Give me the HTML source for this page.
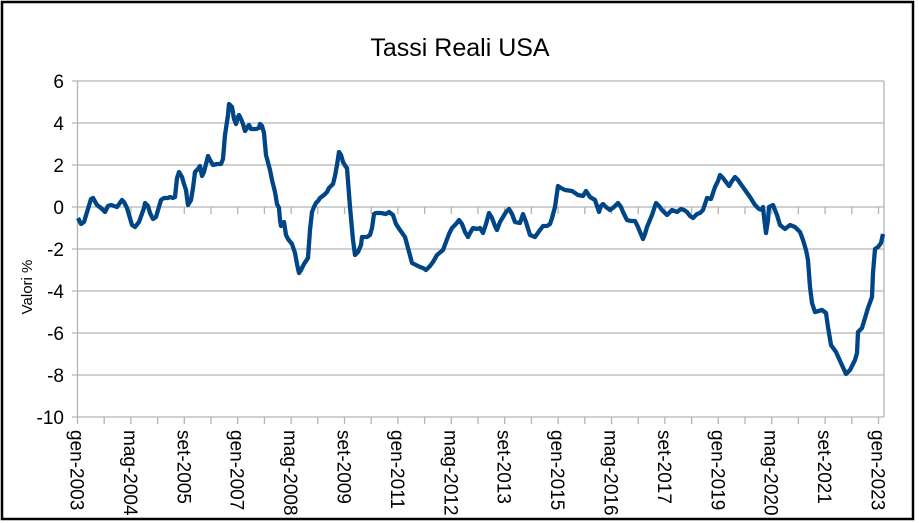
<!DOCTYPE html>
<html><head><meta charset="utf-8"><style>
html,body{margin:0;padding:0;background:#fff;}
svg{display:block;font-family:"Liberation Sans",sans-serif;}
</style></head><body>
<svg width="919" height="523" viewBox="0 0 919 523" xmlns="http://www.w3.org/2000/svg">
<rect x="0" y="0" width="919" height="523" fill="#fff"/>
<rect x="2" y="2" width="911" height="517" fill="none" stroke="#000" stroke-width="2.5"/>
<text x="460" y="56" font-size="25" text-anchor="middle" fill="#000">Tassi Reali USA</text>
<g stroke="#b3b3b3" stroke-width="1.3" fill="none">
<line x1="72" y1="81" x2="884" y2="81"/>
<line x1="72" y1="123" x2="884" y2="123"/>
<line x1="72" y1="165" x2="884" y2="165"/>
<line x1="72" y1="207" x2="884" y2="207"/>
<line x1="72" y1="249" x2="884" y2="249"/>
<line x1="72" y1="291" x2="884" y2="291"/>
<line x1="72" y1="333" x2="884" y2="333"/>
<line x1="72" y1="375" x2="884" y2="375"/>
<line x1="72" y1="417" x2="884" y2="417"/>
<line x1="77.5" y1="81" x2="77.5" y2="417"/>
<line x1="884" y1="81" x2="884" y2="417"/>
</g>
<g stroke="#b3b3b3" stroke-width="1.3">
<line x1="77.5" y1="207" x2="77.5" y2="214"/><line x1="104.2" y1="207" x2="104.2" y2="214"/><line x1="130.9" y1="207" x2="130.9" y2="214"/><line x1="157.6" y1="207" x2="157.6" y2="214"/><line x1="184.3" y1="207" x2="184.3" y2="214"/><line x1="211" y1="207" x2="211" y2="214"/><line x1="237.7" y1="207" x2="237.7" y2="214"/><line x1="264.4" y1="207" x2="264.4" y2="214"/><line x1="291.1" y1="207" x2="291.1" y2="214"/><line x1="317.8" y1="207" x2="317.8" y2="214"/><line x1="344.5" y1="207" x2="344.5" y2="214"/><line x1="371.2" y1="207" x2="371.2" y2="214"/><line x1="397.9" y1="207" x2="397.9" y2="214"/><line x1="424.6" y1="207" x2="424.6" y2="214"/><line x1="451.3" y1="207" x2="451.3" y2="214"/><line x1="478" y1="207" x2="478" y2="214"/><line x1="504.7" y1="207" x2="504.7" y2="214"/><line x1="531.4" y1="207" x2="531.4" y2="214"/><line x1="558.1" y1="207" x2="558.1" y2="214"/><line x1="584.8" y1="207" x2="584.8" y2="214"/><line x1="611.5" y1="207" x2="611.5" y2="214"/><line x1="638.2" y1="207" x2="638.2" y2="214"/><line x1="664.9" y1="207" x2="664.9" y2="214"/><line x1="691.6" y1="207" x2="691.6" y2="214"/><line x1="718.3" y1="207" x2="718.3" y2="214"/><line x1="745" y1="207" x2="745" y2="214"/><line x1="771.7" y1="207" x2="771.7" y2="214"/><line x1="798.4" y1="207" x2="798.4" y2="214"/><line x1="825.1" y1="207" x2="825.1" y2="214"/><line x1="851.8" y1="207" x2="851.8" y2="214"/><line x1="878.5" y1="207" x2="878.5" y2="214"/>
<line x1="77.5" y1="417" x2="77.5" y2="424"/><line x1="104.2" y1="417" x2="104.2" y2="424"/><line x1="130.9" y1="417" x2="130.9" y2="424"/><line x1="157.6" y1="417" x2="157.6" y2="424"/><line x1="184.3" y1="417" x2="184.3" y2="424"/><line x1="211" y1="417" x2="211" y2="424"/><line x1="237.7" y1="417" x2="237.7" y2="424"/><line x1="264.4" y1="417" x2="264.4" y2="424"/><line x1="291.1" y1="417" x2="291.1" y2="424"/><line x1="317.8" y1="417" x2="317.8" y2="424"/><line x1="344.5" y1="417" x2="344.5" y2="424"/><line x1="371.2" y1="417" x2="371.2" y2="424"/><line x1="397.9" y1="417" x2="397.9" y2="424"/><line x1="424.6" y1="417" x2="424.6" y2="424"/><line x1="451.3" y1="417" x2="451.3" y2="424"/><line x1="478" y1="417" x2="478" y2="424"/><line x1="504.7" y1="417" x2="504.7" y2="424"/><line x1="531.4" y1="417" x2="531.4" y2="424"/><line x1="558.1" y1="417" x2="558.1" y2="424"/><line x1="584.8" y1="417" x2="584.8" y2="424"/><line x1="611.5" y1="417" x2="611.5" y2="424"/><line x1="638.2" y1="417" x2="638.2" y2="424"/><line x1="664.9" y1="417" x2="664.9" y2="424"/><line x1="691.6" y1="417" x2="691.6" y2="424"/><line x1="718.3" y1="417" x2="718.3" y2="424"/><line x1="745" y1="417" x2="745" y2="424"/><line x1="771.7" y1="417" x2="771.7" y2="424"/><line x1="798.4" y1="417" x2="798.4" y2="424"/><line x1="825.1" y1="417" x2="825.1" y2="424"/><line x1="851.8" y1="417" x2="851.8" y2="424"/><line x1="878.5" y1="417" x2="878.5" y2="424"/>
</g>
<g font-size="19" fill="#000" text-anchor="end">
<text x="64" y="88">6</text><text x="64" y="130">4</text><text x="64" y="172">2</text>
<text x="64" y="214">0</text><text x="64" y="256">-2</text><text x="64" y="298">-4</text>
<text x="64" y="340">-6</text><text x="64" y="382">-8</text><text x="64" y="424">-10</text>
</g>
<text transform="translate(32,287) rotate(-90)" font-size="15" text-anchor="middle" fill="#000">Valori %</text>
<g font-size="19" fill="#000">
<text transform="translate(70.5,430) rotate(90)">gen-2003</text>
<text transform="translate(123.9,430) rotate(90)">mag-2004</text>
<text transform="translate(177.3,430) rotate(90)">set-2005</text>
<text transform="translate(230.7,430) rotate(90)">gen-2007</text>
<text transform="translate(284.1,430) rotate(90)">mag-2008</text>
<text transform="translate(337.5,430) rotate(90)">set-2009</text>
<text transform="translate(390.9,430) rotate(90)">gen-2011</text>
<text transform="translate(444.3,430) rotate(90)">mag-2012</text>
<text transform="translate(497.7,430) rotate(90)">set-2013</text>
<text transform="translate(551.1,430) rotate(90)">gen-2015</text>
<text transform="translate(604.5,430) rotate(90)">mag-2016</text>
<text transform="translate(657.9,430) rotate(90)">set-2017</text>
<text transform="translate(711.3,430) rotate(90)">gen-2019</text>
<text transform="translate(764.7,430) rotate(90)">mag-2020</text>
<text transform="translate(818.1,430) rotate(90)">set-2021</text>
<text transform="translate(871.5,430) rotate(90)">gen-2023</text>
</g>
<polyline fill="none" stroke="#004586" stroke-width="4.3" stroke-linejoin="round" points="78,218 81,224 84,222 91,199 93,198 97,205 101,208 105,212 108,206 111,205 117,207 122,200 124,202 127,208 132,225 135,227 139,222 144,208 145,203 148,206 150,213 153,219 156,217 161,200 164,198 168,198 170,197 173,198 175,197 177,178 179,172 182,177 184,184 186,190 187,198 188,205 191,200 193,188 195,172 198,169 200,166 202,176 204,172 206,164 208,156 210,160 213,165 217,164 221,164 223,159 225,135 228,115 229,104 232,107 234,119 236,124 238,117 239,115 241,119 243,124 245,131 247,128 249,125 251,129 256,129 259,128 260,124 262,126 264,133 266,155 270,170 272,180 275,192 277,204 279,208 280,220 281,226 282,224 284,222 286,235 288,239 292,244 295,253 297,264 299,273 301,270 304,264 306,261 308,258 310,230 312,212 314,207 316,203 318,201 320,198 324,195 327,192 329,188 333,184 335,176 337,165 339,152 341,155 343,162 346,167 347,168 350,207 353,240 355,255 358,252 361,245 362,237 367,237 370,235 372,228 374,214 376,213 381,213 386,214 389,212 393,215 396,224 400,230 405,237 408,248 412,263 416,265 420,267 423,268 426,270 430,266 433,262 437,255 443,250 446,242 449,234 452,228 456,224 459,220 462,224 465,232 468,237 470,233 473,228 477,229 480,228 483,233 486,224 489,213 492,218 495,226 497,230 500,222 503,217 506,212 509,209 512,214 515,222 520,223 523,214 526,222 530,235 535,237 540,230 543,226 547,226 550,224 552,218 555,207 558,186 561,188 565,190 572,191 578,195 583,196 586,191 590,197 595,200 597,206 599,212 601,206 603,204 606,207 610,210 614,207 618,203 621,207 623,212 627,220 631,221 635,221 638,227 640,232 643,239 645,234 647,227 652,215 656,203 659,206 662,210 667,215 672,210 677,212 681,209 684,210 687,212 690,216 693,218 697,214 700,213 703,210 705,204 707,198 711,199 713,193 715,187 718,181 720,175 723,178 726,182 729,186 732,181 735,177 738,180 740,183 745,190 750,197 755,205 759,209 762,210 763,207 764,217 766,233 768,220 769,207 773,205 777,215 780,225 785,229 790,225 795,227 800,232 803,240 806,250 808,260 810,287 812,303 815,312 822,310 826,313 828,327 831,345 836,352 841,363 846,374 850,370 855,360 857,353 858,332 862,328 865,318 868,308 872,297 873,273 875,249 878,247 881,243 883,234"/>
</svg>
</body></html>
